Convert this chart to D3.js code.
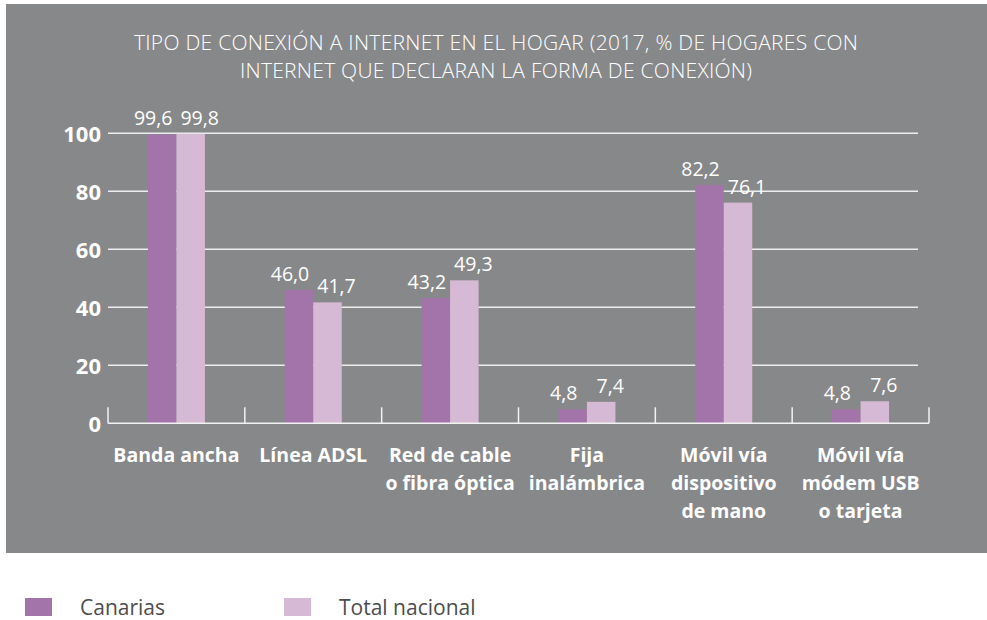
<!DOCTYPE html>
<html>
<head>
<meta charset="utf-8">
<script src="https://cdn.jsdelivr.net/npm/d3@7"></script>
<style>
  body { margin: 0; background: #fff; }
  svg { display: block; font-family: "Open Sans", "Noto Sans", sans-serif; }
</style>
</head>
<body>
<div id="chart"></div>
<script>
// chart data
const categories = [
  ["Banda ancha"],
  ["Línea ADSL"],
  ["Red de cable", "o fibra óptica"],
  ["Fija", "inalámbrica"],
  ["Móvil vía", "dispositivo", "de mano"],
  ["Móvil vía", "módem USB", "o tarjeta"]
];
const canarias = [99.6, 46.0, 43.2, 4.8, 82.2, 4.8];
const totalNacional = [99.8, 41.7, 49.3, 7.4, 76.1, 7.6];
const seriesNames = ["Canarias", "Total nacional"];
const yTicks = [0, 20, 40, 60, 80, 100];
const titleLines = [
  "TIPO DE CONEXIÓN A INTERNET EN EL HOGAR (2017, % DE HOGARES CON",
  "INTERNET QUE DECLARAN LA FORMA DE CONEXIÓN)"
];

const WIDTH = 987, HEIGHT = 620;
const COLORS = ["#a274aa", "#d6b9d5"];
const PLOT = {left: 108, right: 929, top: 133.3, bottom: 423.3};

const svg = d3.select("#chart").append("svg")
  .attr("width", WIDTH)
  .attr("height", HEIGHT);

// grey panel
svg.append("rect")
  .attr("x", 6).attr("y", 4)
  .attr("width", WIDTH - 6).attr("height", 549)
  .attr("fill", "#87888a");

// title
svg.append("g").selectAll("text")
  .data(titleLines)
  .join("text")
    .attr("x", 496)
    .attr("y", (d, i) => 50 + i * 28)
    .attr("text-anchor", "middle")
    .attr("fill", "#fff")
    .attr("font-size", 21)
    .attr("font-weight", 300)
    .attr("textLength", (d, i) => i === 0 ? 724 : 512)
    .text(d => d);

const x = d3.scaleBand()
  .domain(d3.range(categories.length))
  .range([PLOT.left, PLOT.right]);

const y = d3.scaleLinear()
  .domain([0, 100])
  .range([PLOT.bottom, PLOT.top]);

// gridlines
svg.append("g").selectAll("line")
  .data(yTicks.filter(d => d > 0))
  .join("line")
    .attr("x1", PLOT.left).attr("x2", 918)
    .attr("y1", d => y(d)).attr("y2", d => y(d))
    .attr("stroke", "#ededed")
    .attr("stroke-width", 1.5);

// y tick labels
svg.append("g").selectAll("text")
  .data(yTicks)
  .join("text")
    .attr("x", 101)
    .attr("y", d => y(d) + 9)
    .attr("text-anchor", "end")
    .attr("fill", "#fff")
    .attr("font-size", 22)
    .attr("font-weight", "bold")
    .text(d => d);

// bars
const sub = d3.scaleBand()
  .domain([0, 1])
  .range([0, 57]);
const bw = sub.bandwidth();
const series = [canarias, totalNacional];

series.forEach((vals, s) => {
  const g = svg.append("g");
  g.selectAll("rect")
    .data(vals)
    .join("rect")
      .attr("x", (d, i) => x(i) + x.bandwidth() / 2 - 28.5 + sub(s))
      .attr("y", d => y(d))
      .attr("width", bw)
      .attr("height", d => y(0) - y(d))
      .attr("fill", COLORS[s]);

  g.selectAll("text")
    .data(vals)
    .join("text")
      .attr("x", (d, i) => x(i) + x.bandwidth() / 2 - 28.5 + sub(s) + bw / 2 + (s === 0 ? -9 : 9))
      .attr("y", d => y(d) - 9)
      .attr("text-anchor", "middle")
      .attr("fill", "#fff")
      .attr("font-size", 19.5)
      .text(d => d3.format(".1f")(d).replace(".", ","));
});

// x axis line and ticks
svg.append("line")
  .attr("x1", PLOT.left).attr("x2", PLOT.right)
  .attr("y1", y(0)).attr("y2", y(0))
  .attr("stroke", "#f2f2f2")
  .attr("stroke-width", 1.5);

svg.append("g").selectAll("line")
  .data(d3.range(categories.length + 1))
  .join("line")
    .attr("x1", d => PLOT.left + d * x.step())
    .attr("x2", d => PLOT.left + d * x.step())
    .attr("y1", y(0) - 16).attr("y2", y(0))
    .attr("stroke", "#f2f2f2")
    .attr("stroke-width", 1.5);

// category labels
const cat = svg.append("g").selectAll("text")
  .data(categories)
  .join("text")
    .attr("x", (d, i) => x(i) + x.bandwidth() / 2)
    .attr("y", 462)
    .attr("text-anchor", "middle")
    .attr("fill", "#fff")
    .attr("font-size", 19.5)
    .attr("font-weight", "bold");

cat.selectAll("tspan")
  .data(d => d)
  .join("tspan")
    .attr("x", function () { return d3.select(this.parentNode).attr("x"); })
    .attr("dy", (d, i) => i === 0 ? 0 : 28)
    .text(d => d);

// legend
const legend = svg.append("g").selectAll("g")
  .data(seriesNames)
  .join("g")
    .attr("transform", (d, i) => `translate(${25 + i * 259},598)`);

legend.append("rect")
  .attr("width", 27).attr("height", 18)
  .attr("fill", (d, i) => COLORS[i]);

legend.append("text")
  .attr("x", 55).attr("y", 17)
  .attr("fill", "#4d4d4d")
  .attr("font-size", 21)
  .text(d => d);
</script>
</body>
</html>
